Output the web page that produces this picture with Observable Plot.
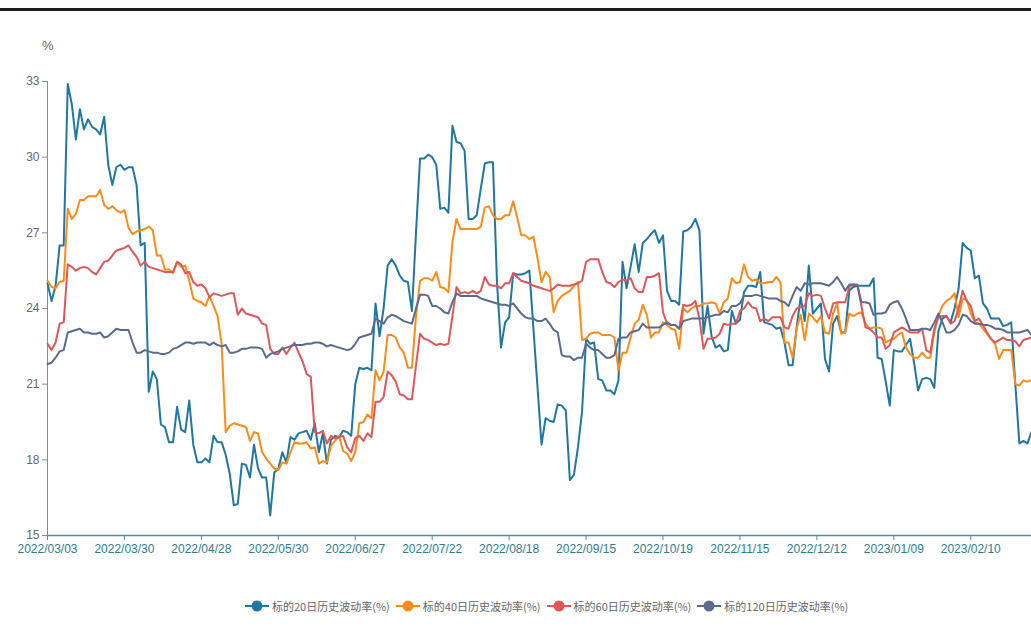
<!DOCTYPE html>
<html><head><meta charset="utf-8">
<script src="https://cdn.jsdelivr.net/npm/d3@7"></script>
<script src="https://cdn.jsdelivr.net/npm/@observablehq/plot@0.6"></script>
<style>
html,body{margin:0;padding:0;background:#fff;}
body{width:1031px;height:640px;overflow:hidden;position:relative;font-family:"Liberation Sans",Arial,sans-serif;}
#topline{position:absolute;left:0;top:8px;width:1031px;height:3px;background:#1e1e1e;}
#unit{position:absolute;left:42px;top:38px;font-size:13px;color:#666;}
#chart{position:absolute;left:0;top:0;}
#legend{position:absolute;top:598px;left:245px;display:flex;align-items:center;font-family:"Noto Sans CJK SC",sans-serif;font-size:11px;color:#666;white-space:nowrap;}
.item{display:flex;align-items:center;margin-right:6px;}
.item svg{margin-right:3px;}
</style>
</head><body>
<div id="topline"></div>
<div id="unit">%</div>
<div id="chart"></div>
<div id="legend"></div>
<script>
// ---- data ----
const seriesNames = ["标的20日历史波动率(%)", "标的40日历史波动率(%)", "标的60日历史波动率(%)", "标的120日历史波动率(%)"];
const xTickLabels = ["2022/03/03","2022/03/30","2022/04/28","2022/05/30","2022/06/27","2022/07/22","2022/08/18","2022/09/15","2022/10/19","2022/11/15","2022/12/12","2023/01/09","2023/02/10"];
const yTicks = [15, 18, 21, 24, 27, 30, 33];
const labelEvery = 19; // trading days between labelled dates

const vol20 = [25.0,24.3,24.9,26.5,26.5,32.9,32.1,30.7,31.9,31.1,31.5,31.2,31.1,30.9,31.6,29.7,28.9,29.6,29.7,29.5,
29.6,29.6,28.9,26.5,26.6,20.7,21.5,21.2,19.4,19.3,18.7,18.7,20.1,19.2,19.1,20.35,18.6,17.9,17.9,18.05,
17.9,18.95,18.7,18.7,18.2,17.45,16.2,16.25,17.85,17.8,17.3,18.6,17.65,17.3,17.3,15.8,17.5,17.65,18.3,17.9,
18.9,18.8,19.05,19.1,19.15,18.8,19.45,18.3,19.05,17.85,18.8,18.95,18.9,19.15,19.1,18.95,21.0,21.65,21.6,21.65,
21.55,24.2,22.9,24.0,25.7,25.95,25.7,25.3,25.1,25.05,23.9,27.0,29.95,29.95,30.1,30.0,29.7,27.95,28.0,27.8,
31.25,30.6,30.55,30.25,27.55,27.55,27.7,28.75,29.75,29.8,29.8,25.05,22.45,23.45,23.65,25.4,25.35,25.35,25.4,25.5,
23.2,20.9,18.6,19.65,19.55,19.5,20.2,20.15,19.95,17.2,17.4,18.5,19.9,22.8,22.6,22.65,21.2,21.15,20.75,20.75,
20.6,21.15,25.85,24.8,25.65,26.55,25.45,26.6,26.75,26.95,27.1,26.6,26.9,24.7,24.3,24.3,24.15,27.05,27.1,27.25,
27.55,27.1,23.0,24.1,22.9,22.45,22.55,22.3,22.35,23.9,23.4,23.55,24.65,24.9,24.9,24.85,25.45,23.45,23.4,23.35,
23.2,23.25,22.65,21.75,21.75,23.25,24.45,23.5,25.7,23.8,24.0,24.2,22.0,21.5,23.4,23.7,23.05,23.05,24.7,24.85,
24.9,24.9,24.9,24.9,25.2,22.05,22.0,21.1,20.15,22.35,22.3,22.3,22.55,22.8,21.85,20.75,21.2,21.25,21.2,20.85,
23.1,23.6,23.7,23.45,24.0,24.8,26.6,26.4,26.3,25.2,25.3,24.2,24.0,23.6,23.6,23.6,23.3,23.35,23.45,21.0,
18.65,18.75,18.65,19.1];

const vol40 = [25.1,24.85,24.8,25.05,25.1,27.95,27.55,27.75,28.3,28.3,28.45,28.45,28.45,28.7,28.1,27.95,28.05,27.9,27.8,27.9,
27.2,26.95,27.05,27.1,27.15,27.25,27.1,26.1,26.1,25.55,25.55,25.4,25.85,25.65,25.7,25.1,24.4,24.3,24.25,24.1,
24.5,24.1,23.7,22.6,19.1,19.35,19.45,19.4,19.35,19.3,18.75,19.1,19.05,18.3,18.05,17.85,17.65,17.6,17.9,17.85,
18.3,18.7,18.65,18.65,18.7,18.45,18.5,17.85,17.95,17.9,18.55,18.75,18.95,18.35,18.25,17.95,18.3,19.45,19.5,19.8,
19.65,21.55,21.15,21.5,22.95,22.95,22.85,22.45,22.25,21.65,21.65,23.7,25.1,25.2,25.2,25.1,25.45,24.85,24.8,24.65,
26.65,27.55,27.15,27.15,27.15,27.15,27.15,27.25,28.0,28.05,27.7,27.55,27.55,27.7,27.7,28.25,27.6,26.9,26.9,26.75,
26.85,26.0,25.05,25.45,25.25,23.85,24.3,24.5,24.6,24.7,24.9,25.05,22.75,22.8,23.0,23.05,23.05,22.95,22.95,22.95,
22.85,21.55,22.25,22.25,22.85,23.4,23.55,24.15,23.75,22.85,23.05,23.05,23.45,23.35,23.2,23.15,22.4,24.0,23.85,24.0,
24.1,24.1,24.2,24.2,24.25,24.2,23.8,24.25,24.4,25.2,25.0,25.05,25.75,25.25,25.1,25.15,25.0,25.0,25.05,25.05,
25.25,25.05,22.65,22.65,22.05,23.2,23.75,22.75,23.8,23.65,23.45,23.7,23.05,23.0,23.8,24.2,23.0,23.05,23.8,23.7,
23.8,23.85,23.4,23.2,23.25,23.25,23.2,22.65,22.75,22.8,22.95,23.05,22.45,22.2,22.05,22.05,22.25,22.05,22.05,23.05,
23.7,24.1,24.3,24.4,24.6,23.65,24.4,24.35,23.8,23.45,23.4,23.2,23.0,22.8,22.6,22.0,22.35,22.35,22.35,21.0,
20.95,21.15,21.1,21.15];

const vol60 = [22.6,22.35,22.65,23.4,23.45,25.75,25.65,25.5,25.6,25.65,25.6,25.45,25.35,25.6,25.85,25.9,26.1,26.3,26.35,26.4,
26.5,26.25,26.05,25.7,25.85,25.65,25.6,25.55,25.5,25.45,25.45,25.45,25.85,25.75,25.4,25.45,25.05,24.9,24.95,24.8,
24.45,24.6,24.55,24.5,24.55,24.6,24.6,23.75,24.0,23.8,23.75,23.7,23.65,23.4,23.35,22.4,22.2,22.2,22.45,22.2,
22.45,22.65,22.25,21.9,21.4,21.3,19.1,19.05,19.15,18.65,18.95,18.85,18.9,18.95,18.5,18.3,18.85,18.95,18.75,19.05,
18.9,20.3,20.3,20.5,21.5,21.35,21.1,20.6,20.55,20.4,20.4,21.75,23.0,22.8,22.75,22.65,22.55,22.6,22.55,22.6,
23.7,24.85,24.6,24.65,24.6,24.7,24.6,24.7,25.25,24.95,24.9,24.9,24.8,25.0,25.0,25.4,25.25,25.1,25.05,25.0,
24.9,24.85,24.8,24.75,24.7,24.8,24.95,24.9,24.9,24.9,24.95,25.0,25.1,25.85,25.95,25.95,25.95,25.45,25.05,25.0,
24.85,25.05,25.15,25.1,25.2,24.8,24.65,24.65,25.25,25.25,25.3,25.4,23.85,23.4,23.35,23.35,23.2,24.15,24.1,24.15,
24.3,23.6,22.4,22.8,22.8,22.85,23.0,23.4,23.35,23.4,23.4,23.9,24.0,24.25,24.05,24.0,23.5,23.6,23.5,23.65,
23.65,23.65,23.25,23.2,23.7,24.0,24.05,24.1,24.6,24.5,24.55,24.5,24.0,23.6,24.2,24.25,24.25,24.25,24.85,24.95,
24.95,24.1,23.25,23.2,23.05,22.85,22.85,22.4,22.55,23.05,23.15,23.25,23.15,23.05,23.05,23.05,23.2,22.35,22.25,23.2,
23.65,23.7,23.7,23.4,23.5,24.0,24.7,24.3,24.1,23.5,23.6,23.35,23.05,22.8,22.65,22.75,22.85,22.75,22.75,22.7,
22.5,22.75,22.8,22.85];

const vol120 = [21.8,21.85,22.05,22.3,22.35,23.05,23.1,23.15,23.2,23.05,23.05,23.0,23.0,23.05,22.85,22.9,23.05,23.2,23.15,23.15,
23.15,22.65,22.25,22.25,22.35,22.3,22.25,22.25,22.2,22.2,22.25,22.4,22.45,22.55,22.65,22.65,22.6,22.65,22.65,22.65,
22.55,22.65,22.55,22.5,22.55,22.25,22.25,22.3,22.4,22.4,22.45,22.45,22.45,22.4,22.05,22.2,22.25,22.3,22.4,22.45,
22.5,22.55,22.55,22.55,22.6,22.6,22.65,22.65,22.6,22.5,22.55,22.5,22.45,22.4,22.35,22.4,22.6,22.85,22.9,22.95,
23.0,23.6,23.5,23.4,23.65,23.75,23.7,23.6,23.5,23.45,23.4,24.0,24.55,24.55,24.5,24.1,24.1,24.0,23.85,23.8,
24.25,24.6,24.5,24.5,24.5,24.5,24.5,24.4,24.35,24.3,24.25,24.2,24.15,24.15,24.1,24.2,24.0,23.8,23.65,23.6,
23.6,23.5,23.5,23.6,23.4,23.15,23.05,22.15,22.1,22.1,21.95,22.05,22.05,22.6,22.45,22.35,22.35,22.2,22.05,22.05,
22.15,22.8,22.85,22.85,23.05,23.1,23.15,23.4,23.25,23.25,23.25,23.25,23.35,23.45,23.35,23.35,23.2,23.5,23.55,23.6,
23.6,23.6,23.6,23.65,23.7,23.75,23.75,23.9,23.85,24.1,24.1,24.2,24.5,24.5,24.5,24.55,24.5,24.45,24.4,24.4,
24.4,24.3,24.25,24.1,24.5,24.85,24.7,25.0,24.95,25.0,25.0,25.0,24.95,24.9,25.05,25.25,25.0,24.7,24.95,24.95,
24.9,24.25,24.25,24.2,23.75,23.8,23.8,23.85,24.15,24.25,24.3,24.0,23.6,23.15,23.15,23.15,23.2,23.2,23.15,23.45,
23.8,23.45,23.05,23.05,23.15,23.35,23.75,23.7,23.5,23.4,23.4,23.35,23.35,23.3,23.2,23.2,23.15,23.05,23.05,23.05,
23.05,23.1,23.15,22.95];

// ---- build table ----
const allSeries = [vol20, vol40, vol60, vol120];
const table = [];
allSeries.forEach((vals, s) => vals.forEach((v, i) => table.push({i, v, s: seriesNames[s]})));
const nDays = vol20.length;
const xTickIdx = xTickLabels.map((_, j) => j * labelEvery);

const colors = ["#1f77a3", "#fd8b17", "#e15759", "#5b6a8f"];
const tealAxis = "#4f929f";

const chart = Plot.plot({
  width: 1031,
  height: 575,
  marginTop: 81,
  marginBottom: 40,
  marginLeft: 47,
  marginRight: 0,
  x: {domain: [0, nDays - 1], axis: null},
  y: {domain: [15, 33], axis: null},
  color: {domain: seriesNames, range: colors},
  style: {background: "transparent", overflow: "visible", fontFamily: '"Liberation Sans",Arial,sans-serif'},
  marks: [
    Plot.ruleX([0], {stroke: "#8c8c8c", strokeWidth: 1}),
    Plot.axisY({ticks: yTicks, tickSize: 5, tickPadding: 3, stroke: "#8c8c8c", fill: "#666", fontSize: 12, label: null, tickFormat: d3.format("d")}),
    Plot.line(table, {x: "i", y: "v", z: "s", stroke: "s", strokeWidth: 2, strokeLinejoin: "round"}),
    Plot.ruleY([15], {stroke: tealAxis, strokeWidth: 1.5}),
    Plot.axisX({ticks: xTickIdx, tickFormat: d => xTickLabels[xTickIdx.indexOf(d)], tickSize: 5, tickPadding: 4, stroke: tealAxis, fill: "#2f7d8c", fontSize: 12, label: null})
  ]
});
document.getElementById("chart").appendChild(chart);

// ---- legend ----
const legend = document.getElementById("legend");
seriesNames.forEach((name, k) => {
  const item = document.createElement("div");
  item.className = "item";
  item.innerHTML = `<svg width="24" height="14"><line x1="0" y1="7" x2="24" y2="7" stroke="${colors[k]}" stroke-width="2"/><circle cx="12" cy="7" r="5.5" fill="${colors[k]}"/></svg><span>${name}</span>`;
  legend.appendChild(item);
});
</script>
</body></html>
